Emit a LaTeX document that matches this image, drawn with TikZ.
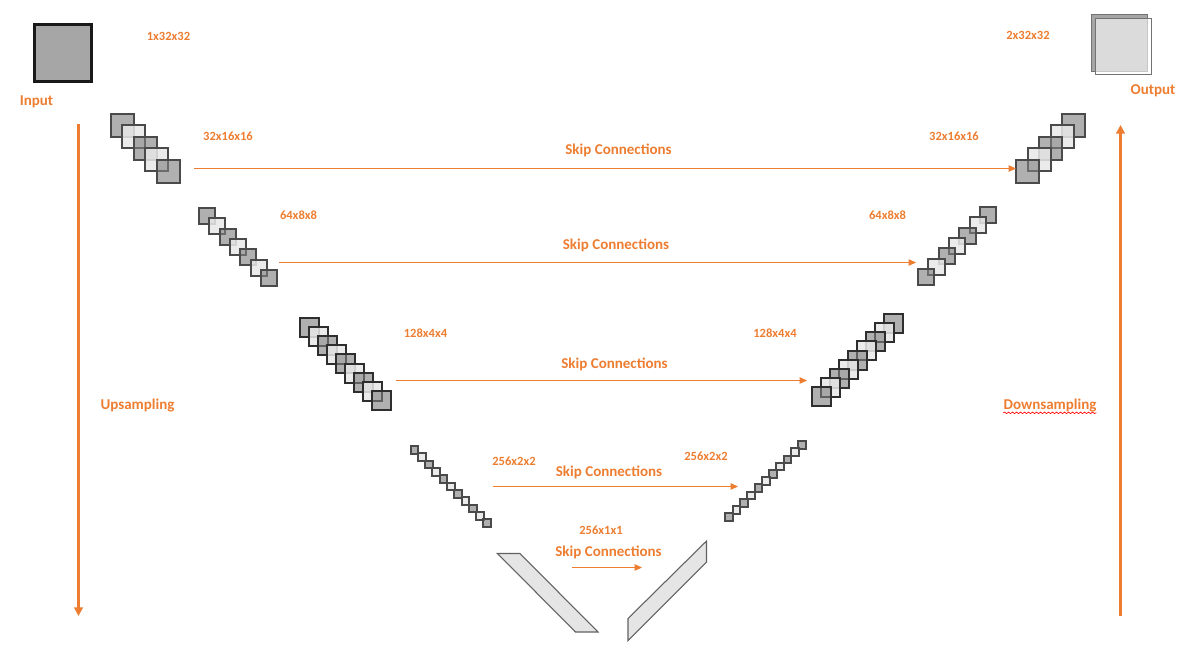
\documentclass[tikz,border=0pt]{standalone}
\usepackage{fontspec}
\setmainfont{Carlito}
\usetikzlibrary{arrows.meta,decorations.pathmorphing}
\definecolor{naranja}{HTML}{ED7D31}
\definecolor{borde}{HTML}{4A4A4A}
\definecolor{bordeosc}{HTML}{2E2E2E}
\tikzset{
  etiqueta/.style={text=naranja,font=\bfseries\fontsize{9.4}{11}\selectfont,inner sep=0pt},
  titulo/.style={text=naranja,font=\bfseries\fontsize{11.25}{13}\selectfont,inner sep=0pt},
  lado/.style={draw=naranja,line width=1.9pt,-{Triangle[length=6.5pt,width=6.5pt]}},
  salto/.style={draw=naranja,line width=0.75pt,-{Triangle[length=5.5pt,width=4.8pt]}},
  capa/.style={rectangle,inner sep=0pt,outer sep=0pt,line width=1.5pt},
  capa0/.style={capa,fill=black!50,fill opacity=0.62},
  capa1/.style={capa,fill=black!9,fill opacity=0.85},
  losa/.style={draw=black!62,line width=0.8pt,fill=black!10},
}
\begin{document}
\begin{tikzpicture}[x=0.75pt,y=-0.75pt]
  \useasboundingbox (0,0) rectangle (1187,647);
  %entrada y salida
  \node[capa,fill=black!35,draw=black!90,line width=2.25pt,minimum size=42.75pt] (entrada) at (62.5,52.5) {};
  \node[capa,fill=black!35,draw=black!55,line width=0.9pt,minimum size=42.25pt] (salidaA) at (1119.7,43) {};
  \node[capa,fill=white,fill opacity=0.6,draw=black!55,line width=0.9pt,minimum size=42pt] (salidaB) at (1123.5,46.2) {};
  %capas
  \foreach \nm/\xa/\ya/\dx/\dy/\nc/\tam/\tinta in {
    izqA/122/125.25/11.5/11.5/4/17.25/borde,
    izqB/207/216/10.33/10.33/6/12.2/borde,
    izqC/309/327.5/9.11/9.11/8/14.25/bordeosc,
    izqD/414.5/450/7.27/7.3/10/5.8/borde,
    derA/1073.5/125.25/-11.5/11.5/4/17.25/borde,
    derB/988/215/-10.3/10.33/6/12.2/borde,
    derC/893.5/323.8/-9.04/9.06/8/14.25/bordeosc,
    derD/802/444.9/-7.27/7.24/10/5.8/borde}{
    \foreach \i in {0,...,\nc}{
      \pgfmathtruncatemacro{\tono}{mod(\i,2)}
      \node[capa\tono,draw=\tinta,minimum size=\tam pt] (\nm\i) at ({\xa+\i*\dx},{\ya+\i*\dy}) {};
    }
  }
  %cuello
  \draw[losa] (497.5,553.5) -- (520,553.5) -- (598,632) -- (575.5,632) -- cycle;
  \draw[losa] (706.5,541) -- (706.5,562) -- (628,640.5) -- (628,618.5) -- cycle;
  %flechas laterales
  \coordinate (bajaA) at (78.5,124);
  \coordinate (bajaB) at (78.5,616);
  \coordinate (subeA) at (1120.5,616);
  \coordinate (subeB) at (1120.5,125);
  \draw[lado] (bajaA) -- (bajaB);
  \draw[lado] (subeA) -- (subeB);
  %skip
  \coordinate (saltoAa) at (194,168.5);
  \coordinate (saltoAb) at (1016,168.5);
  \coordinate (saltoBa) at (279,262.5);
  \coordinate (saltoBb) at (916,262.5);
  \coordinate (saltoCa) at (395.5,380.5);
  \coordinate (saltoCb) at (807,380.5);
  \coordinate (saltoDa) at (493,486.5);
  \coordinate (saltoDb) at (738,486.5);
  \coordinate (saltoEa) at (572,567.5);
  \coordinate (saltoEb) at (642,567.5);
  \foreach \s in {A,B,C,D,E}{
    \draw[salto] (salto\s a) -- (salto\s b);
  }
  %textos
  \node[titulo] (txtInput) at (36.5,101.5) {Input};
  \node[titulo] (txtOutput) at (1153,90.5) {Output};
  \node[titulo] (txtUp) at (137.5,405.5) {Upsampling};
  \node[titulo] (txtDown) at (1050,405.5) {Downsampling};
  \draw[red,line width=0.5pt,decorate,decoration={snake,amplitude=0.55pt,segment length=3pt}]
    ([yshift=-0.4pt]txtDown.south west) -- ([yshift=-0.4pt]txtDown.south east);
  \node[titulo] (txtSkipA) at (618.5,150) {Skip Connections};
  \node[titulo] (txtSkipB) at (616,245) {Skip Connections};
  \node[titulo] (txtSkipC) at (614.5,364.5) {Skip Connections};
  \node[titulo] (txtSkipD) at (609,472.5) {Skip Connections};
  \node[titulo] (txtSkipE) at (608.5,552.5) {Skip Connections};
  %dimensiones
  \node[etiqueta] (dimA) at (168.5,36.5) {1x32x32};
  \node[etiqueta] (dimB) at (1028,35.5) {2x32x32};
  \node[etiqueta] (dimC) at (228,136.5) {32x16x16};
  \node[etiqueta] (dimD) at (954,136.5) {32x16x16};
  \node[etiqueta] (dimE) at (298.5,215.5) {64x8x8};
  \node[etiqueta] (dimF) at (887.5,215.5) {64x8x8};
  \node[etiqueta] (dimG) at (425.5,333.5) {128x4x4};
  \node[etiqueta] (dimH) at (775,333.5) {128x4x4};
  \node[etiqueta] (dimI) at (514,461) {256x2x2};
  \node[etiqueta] (dimJ) at (706,456.5) {256x2x2};
  \node[etiqueta] (dimK) at (601,530.5) {256x1x1};
\end{tikzpicture}
\end{document}
